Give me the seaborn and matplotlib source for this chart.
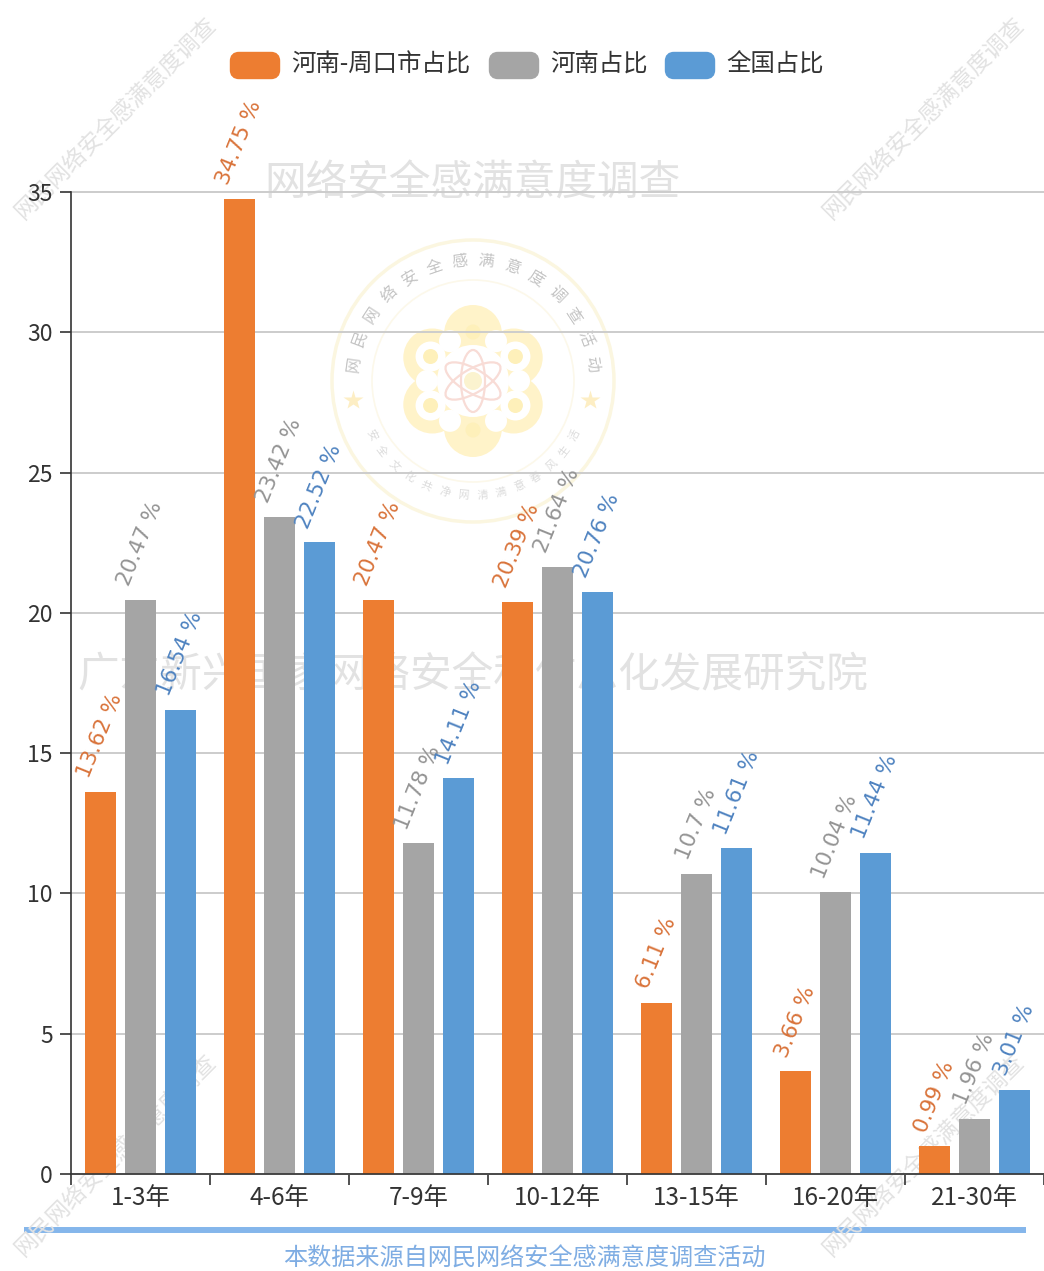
#!/usr/bin/env python
# coding: utf-8
import numpy as np
import pandas as pd
import matplotlib
matplotlib.use("Agg")
import matplotlib.pyplot as plt
from matplotlib.patches import Circle, Ellipse, FancyBboxPatch
import seaborn as sns

sns.set_style("white")
plt.rcParams['font.family'] = ['Noto Sans CJK SC', 'DejaVu Sans']

categories = ["1-3年", "4-6年", "7-9年", "10-12年", "13-15年", "16-20年", "21-30年"]
series_names = ["河南-周口市占比", "河南占比", "全国占比"]
zhoukou = [13.62, 34.75, 20.47, 20.39, 6.11, 3.66, 0.99]
henan = [20.47, 23.42, 11.78, 21.64, 10.7, 10.04, 1.96]
national = [16.54, 22.52, 14.11, 20.76, 11.61, 11.44, 3.01]
y_ticks = [0, 5, 10, 15, 20, 25, 30, 35]

bar_colors = ["#ed7d31", "#a5a5a5", "#5b9bd5"]
label_colors = ["#d9733a", "#949494", "#4f83c0"]
wm_color = "#e2e2e2"
W, H = 1044, 1271

plotDf = pd.DataFrame({
    "cat": categories * 3,
    "series": np.repeat(series_names, len(categories)),
    "val": zhoukou + henan + national,
})

fig = plt.figure(figsize=(W / 100, H / 100), dpi=100)

# background layer in pixel coords: watermarks, emblem, legend, footer
bg = fig.add_axes([0, 0, 1, 1], zorder=0)
bg.set_xlim(0, W)
bg.set_ylim(H, 0)
bg.axis("off")

for x, y in [(116, 118), (924, 118), (116, 1155), (924, 1155)]:
    bg.text(x, y, "网民网络安全感满意度调查", rotation=45, fontsize=16.5, color=wm_color,
            ha="center", va="center")
bg.text(473, 184, "网络安全感满意度调查", fontsize=30, color=wm_color, ha="center", va="center")
bg.text(473, 676, "广东新兴国家网络安全和信息化发展研究院", fontsize=30, color=wm_color,
        ha="center", va="center")

# emblem
cx, cy = 473, 381
yellow = "#fff3c9"
bg.add_patch(Circle((cx, cy), 141, fill=False, ec="#fbf6e0", lw=2.5))
bg.add_patch(Circle((cx, cy), 101, fill=False, ec="#fcf8ea", lw=1.2))
angles = np.deg2rad(np.arange(90, 450, 60))
for a in angles:
    bg.add_patch(Circle((cx + 47 * np.cos(a), cy - 47 * np.sin(a)), 29, color=yellow, lw=0))
for a in angles:
    bg.add_patch(Circle((cx + 46 * np.cos(a + np.pi / 6), cy - 46 * np.sin(a + np.pi / 6)), 11, color="white", lw=0))
bg.add_patch(Circle((cx, cy), 36, color="white", lw=0))
for a in angles:
    px, py = cx + 49 * np.cos(a), cy - 49 * np.sin(a)
    if abs(np.cos(a)) > 0.5:
        bg.add_patch(Circle((px, py), 15, color="white", lw=0))
    bg.add_patch(Circle((px, py), 7.5, color="#fef0ba", lw=0))
for ang in [90, 30, 150]:
    bg.add_patch(Ellipse((cx, cy), 62, 24, angle=ang, fill=False, ec="#f8dcd6", lw=1.6))
bg.add_patch(Circle((cx, cy), 9, color="#fbf3cf", lw=0))
for sx in [353, 590]:
    bg.plot(sx, 400, marker="*", ms=15, color="#fdeec4", mec="none")

top_text = "网民网络安全感满意度调查活动"
for ch, deg in zip(top_text, np.linspace(172, 8, len(top_text))):
    a = np.deg2rad(deg)
    bg.text(cx + 120 * np.cos(a), cy - 120 * np.sin(a), ch, fontsize=11.5, color="#c4c4c4",
            rotation=deg - 90, ha="center", va="center")
low_text = "安全文化共净网清满意春风生活"
for ch, deg in zip(low_text, np.linspace(-152, -28, len(low_text))):
    a = np.deg2rad(deg)
    bg.text(cx + 115 * np.cos(a), cy - 115 * np.sin(a), ch, fontsize=8, color="#dcdcdc",
            rotation=deg + 90, ha="center", va="center")

# legend
for name, color, bx, tx in zip(series_names, bar_colors, [230, 489, 665], [291, 550, 726]):
    bg.add_patch(FancyBboxPatch((bx + 4, 56), 42, 19, boxstyle="round,pad=0,rounding_size=5",
                                mutation_aspect=1, fc=color, ec=color, lw=7 * 0.72 * 1.2))
    bg.text(tx, 65, name, fontsize=17.6, color="#333333", ha="left", va="center")

# footer
bg.plot([24, 1026], [1230, 1230], color="#85b6eb", lw=4.3, solid_capstyle="butt")
bg.text(524, 1259, "本数据来源自网民网络安全感满意度调查活动", fontsize=17.4, color="#7fade3",
        ha="center", va="center")

# chart
ax = fig.add_axes([71 / W, 1 - 1174 / H, (W - 71) / W, (1174 - 192) / H], zorder=1)
ax.patch.set_alpha(0)
sns.barplot(data=plotDf, x="cat", y="val", hue="series", hue_order=series_names,
            palette=bar_colors, width=0.865, gap=0.225, saturation=1, legend=False,
            linewidth=0, ax=ax)

ax.set_xlim(-0.5, len(categories) - 0.5)
ax.set_ylim(0, 35)
ax.set_yticks(y_ticks)
ax.set(xlabel=None, ylabel=None)
ax.yaxis.grid(True, color="#cccccc", lw=1.4)
ax.xaxis.grid(False)
ax.set_axisbelow(True)
for gl in ax.get_ygridlines():
    gl.set_clip_on(False)
sns.despine(ax=ax, top=True, right=True)
for side in ["left", "bottom"]:
    ax.spines[side].set_color("#333333")
    ax.spines[side].set_linewidth(1.2)

# ticks sit between the groups
ax.set_xticks(np.arange(-0.5, len(categories)), minor=False, labels=[""] * (len(categories) + 1))
ax.set_xticks(np.arange(len(categories)), minor=True, labels=categories)
ax.tick_params(axis="x", which="major", bottom=True, length=8, width=1.2, color="#333333")
ax.tick_params(axis="x", which="minor", bottom=False, pad=6, labelsize=17.5, labelcolor="#333333")
ax.tick_params(axis="y", left=True, length=8, width=1.2, color="#333333", labelsize=16.5,
               labelcolor="#333333", pad=5)

for container, color in zip(ax.containers, label_colors):
    labels = [f"{v:g} %" for v in container.datavalues]
    ax.bar_label(container, labels=labels, rotation=68, padding=8, fontsize=15.5, color=color,
                 family="DejaVu Sans", clip_on=False)

plt.savefig("out.png", dpi=100)
